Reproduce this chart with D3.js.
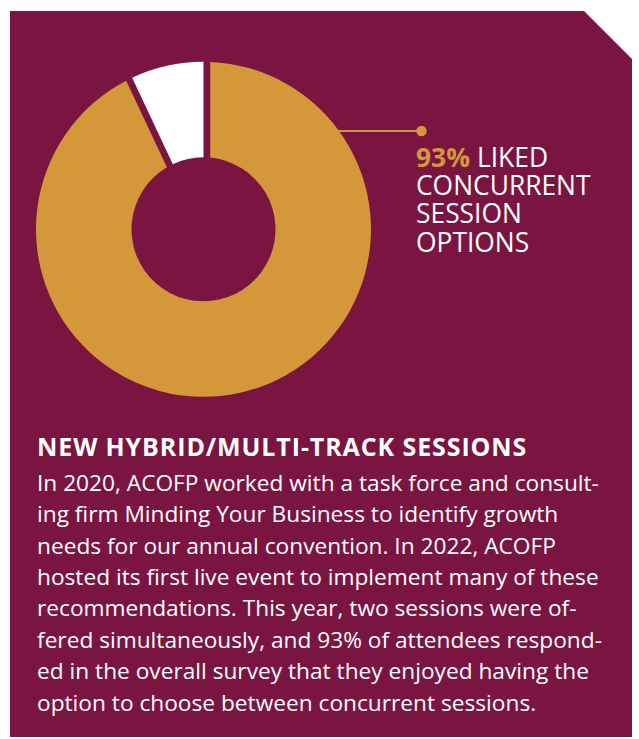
<!DOCTYPE html>
<html>
<head lang="en">
  <title>Hybrid sessions donut</title>
  <script src="https://d3js.org/d3.v7.min.js" charset="utf-8"></script>
  <style>
    body { margin: 0; background: #fff; }
  </style>
</head>
<body>
  <script>

    // data
    var shareLabels = ["Liked", "Did not"];
    var shareValues = [93, 7];
    var calloutValue = "93%";
    var calloutLines = ["LIKED", "CONCURRENT", "SESSION", "OPTIONS"];
    var heading = "NEW HYBRID/MULTI-TRACK SESSIONS";
    var bodyLines = [
      "In 2020, ACOFP worked with a task force and consult-",
      "ing firm Minding Your Business to identify growth",
      "needs for our annual convention. In 2022, ACOFP",
      "hosted its first live event to implement many of these",
      "recommendations. This year, two sessions were of-",
      "fered simultaneously, and 93% of attendees respond-",
      "ed in the overall survey that they enjoyed having the",
      "option to choose between concurrent sessions."
    ];

    var width = 639;
    var height = 739;
    var maroon = "#7a1541";
    var gold = "#d4983b";
    var font = "'Open Sans', sans-serif";

    var svg = d3.select("body")
      .append("svg")
      .attr("width", width)
      .attr("height", height);

    // panel with the clipped top-right corner
    svg.append("path")
      .attr("d", "M10,11 L584,11 L632,59 L632,737 L10,737 Z")
      .attr("fill", maroon);

    // donut
    var cx = 203.5, cy = 229.3;
    var outerR = 167.5, innerR = 72;

    var color = d3.scaleOrdinal()
      .domain(shareLabels)
      .range([gold, "#ffffff"]);

    var pie = d3.pie()
      .sort(null)
      .value(function(d) { return d; });

    var arcs = pie(shareValues);

    var arc = d3.arc()
      .innerRadius(innerR)
      .outerRadius(outerR)
      .padRadius(outerR);

    var g = svg.append("g")
      .attr("transform", "translate(" + cx + "," + cy + ")");

    g.selectAll("path")
      .data(arcs)
      .enter().append("path")
        .attr("d", function(d, i) {
          // only the big slice gets the gaps, cut on its own side
          d.padAngle = i === 0 ? 13.4 / outerR : 0;
          return arc(d);
        })
        .attr("fill", function(d, i) { return color(shareLabels[i]); });

    // leader line + dot
    var lineY = 131;
    var dotX = 421.5;
    var startX = cx + Math.sqrt(outerR * outerR - (lineY - cy) * (lineY - cy));

    svg.append("line")
      .attr("x1", startX - 2)
      .attr("x2", dotX)
      .attr("y1", lineY)
      .attr("y2", lineY)
      .attr("stroke", gold)
      .attr("stroke-width", 2.2);

    svg.append("circle")
      .attr("cx", dotX)
      .attr("cy", lineY)
      .attr("r", 5.2)
      .attr("fill", gold);

    // callout text: bold value, then the lines of the label
    var calloutX = 416, calloutY = 166.5, calloutStep = 28.4;

    var valueText = svg.append("text")
      .attr("x", calloutX)
      .attr("y", calloutY)
      .attr("font-family", font)
      .attr("font-size", "26.4px")
      .attr("font-weight", 700)
      .attr("fill", gold)
      .text(calloutValue);

    var valueW = valueText.node().getComputedTextLength() + 7;

    svg.append("g")
      .selectAll("text")
      .data(calloutLines)
      .enter().append("text")
        .attr("x", function(d, i) { return i === 0 ? calloutX + valueW : calloutX; })
        .attr("y", function(d, i) { return calloutY + i * calloutStep; })
        .attr("font-family", font)
        .attr("font-size", "26.4px")
        .attr("fill", "#fff")
        .text(function(d) { return d; });

    // heading + body copy
    svg.append("text")
      .attr("x", 37)
      .attr("y", 456)
      .attr("font-family", font)
      .attr("font-size", "25px")
      .attr("font-weight", 700)
      .attr("letter-spacing", "0.9px")
      .attr("fill", "#fff")
      .text(heading);

    svg.append("g")
      .selectAll("text")
      .data(bodyLines)
      .enter().append("text")
        .attr("x", 37)
        .attr("y", function(d, i) { return 490.7 + i * 31.4; })
        .attr("font-family", font)
        .attr("font-size", "22.7px")
        .attr("fill", "#fff")
        .text(function(d) { return d; });

  </script>
</body>
</html>
